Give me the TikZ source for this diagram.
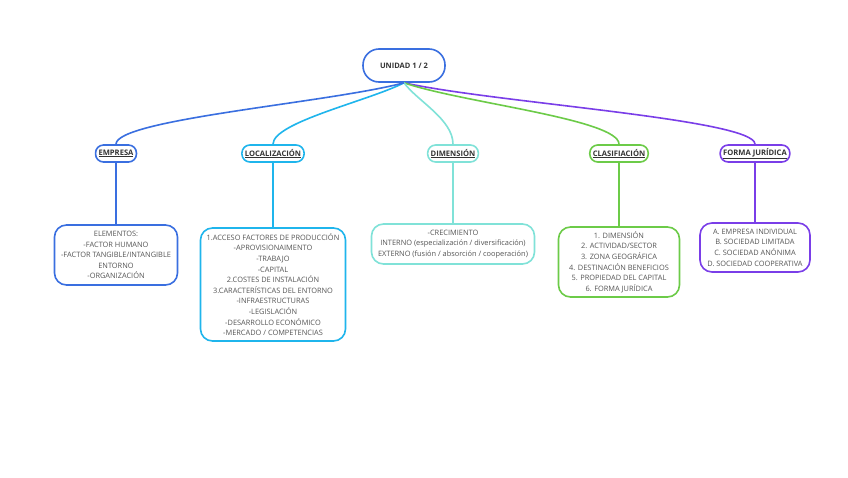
\documentclass[tikz,border=0pt]{standalone}
\usepackage{fontspec}
\setmainfont{Open Sans}
\definecolor{cblue}{HTML}{3A6FE0}
\definecolor{ccyan}{HTML}{1FB5EC}
\definecolor{cteal}{HTML}{80E2D8}
\definecolor{cgreen}{HTML}{6CCB48}
\definecolor{cpurple}{HTML}{7A3EE8}
\definecolor{txt}{HTML}{333333}
\definecolor{leaftxt}{HTML}{555555}
\begin{document}
\begin{tikzpicture}[x=1pt,y=-1pt,
  rootbox/.style={draw=cblue,line width=1.6pt,rounded corners=16pt,minimum width=82pt,minimum height=33pt,inner sep=0pt,font=\fontsize{7.5}{9}\selectfont\bfseries,text=txt},
  topicbox/.style={draw=#1,line width=1.6pt,rounded corners=8pt,minimum height=17pt,inner xsep=3pt,inner ysep=0pt,font=\fontsize{7.6}{8}\selectfont\bfseries,text=txt},
  leafbox/.style={draw=#1,line width=1.6pt,rounded corners=12pt,inner sep=0pt,align=center,font=\fontsize{7.4}{10.6}\selectfont,text=leaftxt},
  link/.style={draw=#1,line width=1.6pt},
]
\useasboundingbox (0,0) rectangle (848,477);
\fill[white] (0,0) rectangle (848,477);

\node[rootbox] (root) at (404,65.5) {UNIDAD 1 / 2};

\node[topicbox=cblue] (emp) at (116,153.5) {\underline{EMPRESA}};
\node[topicbox=ccyan] (loc) at (273,153.5) {\underline{LOCALIZACIÓN}};
\node[topicbox=cteal] (dim) at (453,153.5) {\underline{DIMENSIÓN}};
\node[topicbox=cgreen] (cla) at (619,153.5) {\underline{CLASIFIACIÓN}};
\node[topicbox=cpurple] (for) at (755,153.5) {\underline{FORMA JURÍDICA}};

\node[leafbox=cblue,minimum width=123pt,minimum height=60pt] (empL) at (116,255) {ELEMENTOS:\\-FACTOR HUMANO\\-FACTOR TANGIBLE/INTANGIBLE\\ENTORNO\\-ORGANIZACIÓN};
\node[leafbox=ccyan,minimum width=145pt,minimum height=113pt] (locL) at (273,284.5) {1.ACCESO FACTORES DE PRODUCCIÓN\\-APROVISIONAIMENTO\\-TRABAJO\\-CAPITAL\\2.COSTES DE INSTALACIÓN\\3.CARACTERÍSTICAS DEL ENTORNO\\-INFRAESTRUCTURAS\\-LEGISLACIÓN\\-DESARROLLO ECONÓMICO\\-MERCADO / COMPETENCIAS};
\node[leafbox=cteal,minimum width=163pt,minimum height=40pt] (dimL) at (453,244) {-CRECIMIENTO\\INTERNO (especialización / diversificación)\\EXTERNO (fusión / absorción / cooperación)};
\node[leafbox=cgreen,minimum width=121pt,minimum height=70pt] (claL) at (619,262) {1. DIMENSIÓN\\2. ACTIVIDAD/SECTOR\\3. ZONA GEOGRÁFICA\\4. DESTINACIÓN BENEFICIOS\\5. PROPIEDAD DEL CAPITAL\\6. FORMA JURÍDICA};
\node[leafbox=cpurple,minimum width=110pt,minimum height=49pt] (forL) at (755,247.5) {A. EMPRESA INDIVIDUAL\\B. SOCIEDAD LIMITADA\\C. SOCIEDAD ANÓNIMA\\D. SOCIEDAD COOPERATIVA};

\draw[link=cpurple] (root.south) .. controls +(90,20) and +(0,-25) .. (for.north);
\draw[link=cgreen] (root.south) .. controls +(58,20) and +(0,-25) .. (cla.north);
\draw[link=cteal] (root.south) .. controls +(13,18) and +(0,-25) .. (dim.north);
\draw[link=ccyan] (root.south) .. controls +(-35,18) and +(0,-22) .. (loc.north);
\draw[link=cblue] (root.south) .. controls +(-75,20) and +(0,-25) .. (emp.north);

\draw[link=cblue] (emp.south) -- (empL.north);
\draw[link=ccyan] (loc.south) -- (locL.north);
\draw[link=cteal] (dim.south) -- (dimL.north);
\draw[link=cgreen] (cla.south) -- (claL.north);
\draw[link=cpurple] (for.south) -- (forL.north);
\end{tikzpicture}
\end{document}
